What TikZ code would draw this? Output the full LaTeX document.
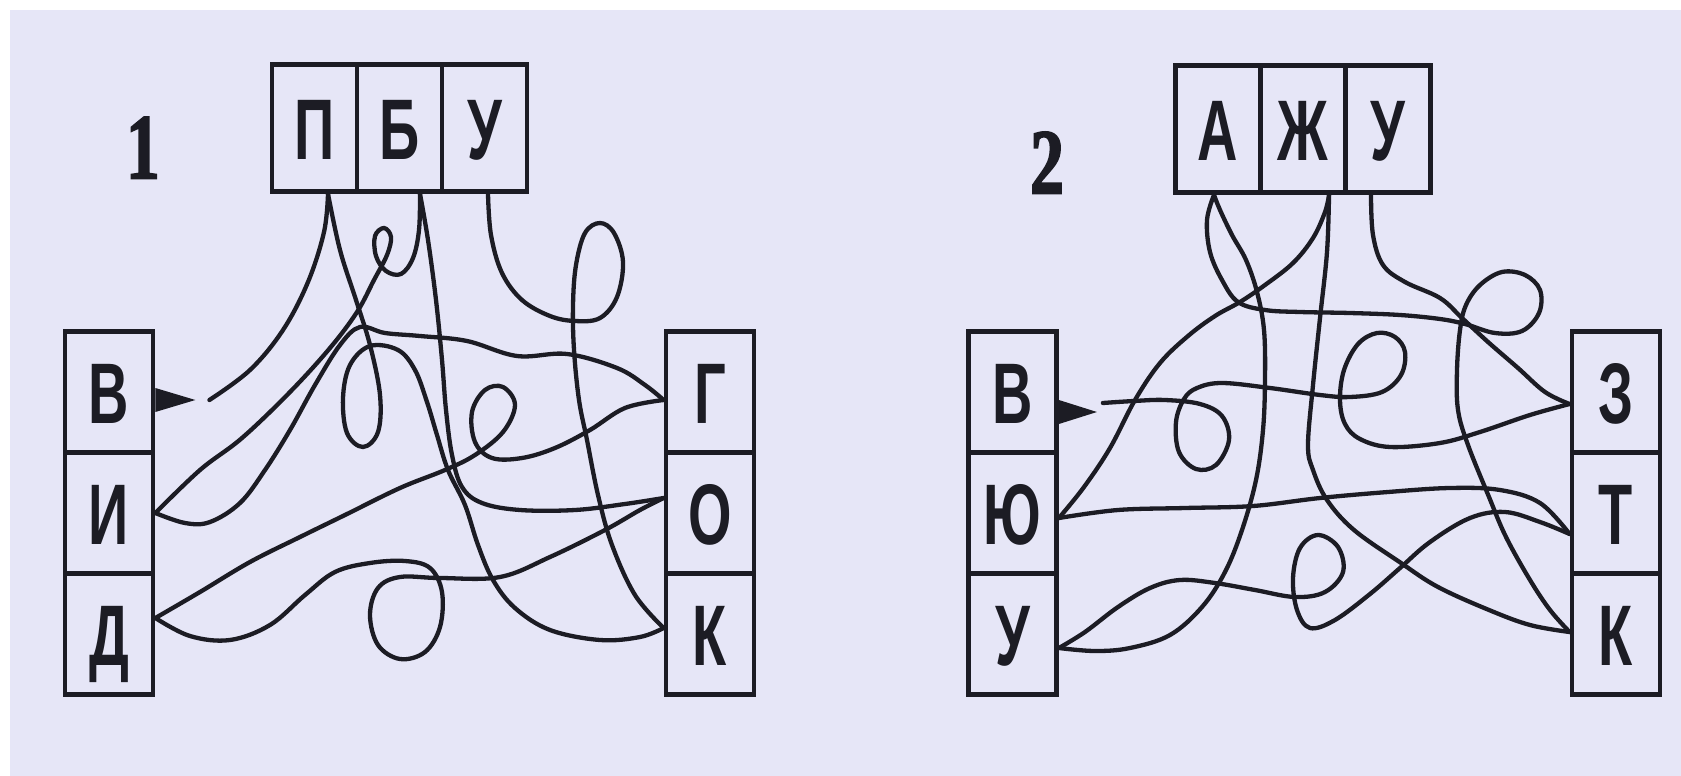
\documentclass[tikz,border=0pt]{standalone}
\usepackage{fontspec}
\newfontfamily\lblfont{Liberation Sans}[FakeStretch=0.65]
\newfontfamily\numfont{Liberation Serif}[FakeStretch=0.72,FakeBold=2]
\usetikzlibrary{calc}
\definecolor{bgc}{HTML}{E6E6F7}
\definecolor{ink}{HTML}{1C1C24}
\begin{document}
\begin{tikzpicture}[x=1pt,y=-1pt,
  cell/.style={draw=ink, line width=4.8pt, minimum width=88pt, minimum height=121pt, inner sep=0pt,
    text height=62pt, text depth=0pt, text=ink, font=\lblfont\bfseries\fontsize{86}{86}\selectfont},
  tcell/.style={cell, minimum width=85pt, minimum height=127pt},
  wire/.style={draw=ink, line width=4.3pt, line cap=round, line join=round},
  numlbl/.style={inner sep=0pt, text height=63pt, text depth=0pt, text=ink, font=\numfont\bfseries\fontsize{93}{93}\selectfont}
]
\useasboundingbox (0,0) rectangle (1681,776);
\fill[white] (0,0) rectangle (1681,776);
\fill[bgc] (10,10) rectangle (1681,776);

% ---------- panel 1 ----------
\node[numlbl] (n1) at (143,147) {1};
\node[tcell] (p1P) at (314.5,128) {П};
\node[tcell] (p1B) at (399.5,128) {Б};
\node[tcell] (p1U) at (484.5,128) {У};
\node[cell] (p1V) at (109,392) {В};
\node[cell] (p1I) at (109,513) {И};
\node[cell] (p1D) at (109,634) {Д};
\node[cell] (p1G) at (710,392) {Г};
\node[cell] (p1O) at (710,513) {О};
\node[cell] (p1K) at (710,634) {К};

\coordinate (eP) at ($(p1P.south)+(13.5,0)$);
\coordinate (eB) at ($(p1B.south)+(20.5,0)$);
\coordinate (eU) at ($(p1U.south)+(3.5,0)$);
\coordinate (eV) at ($(p1V.east)+(54,8)$);
\coordinate (eI) at (p1I.east);
\coordinate (eD) at ($(p1D.east)+(0,-16)$);
\coordinate (eG) at ($(p1G.west)+(0,8)$);
\coordinate (eO) at ($(p1O.west)+(0,-15)$);
\coordinate (eK) at ($(p1K.west)+(0,-6)$);

\fill[ink] ($(p1V.east)+(0,-4)$) -- ($(p1V.east)+(40,8)$) -- ($(p1V.east)+(0,20)$) -- cycle;

\draw[wire] plot[smooth, tension=0.6] coordinates {(eV) (250,370) (283,330) (308,282) (324,232) (eP)};
\draw[wire] plot[smooth, tension=0.6] coordinates {(eP) (340,250) (356,300) (370,345) (380,395) (378,432) (363,447) (347,433) (343,398) (350,365) (370,346) (398,350) (415,370) (427,402) (437,435) (448,470) (465,505) (478,545) (493,580) (515,608) (550,630) (600,640) (640,637) (eK)};
\draw[wire] plot[smooth, tension=0.6] coordinates {(eB) (428,240) (436,300) (442,360) (446,410) (452,455) (462,487) (482,503) (520,510) (575,510) (625,504) (eO)};
\draw[wire] plot[smooth, tension=0.6] coordinates {(eU) (491,235) (502,273) (522,300) (550,316) (575,321) (600,318) (617,297) (623,262) (614,233) (600,223) (585,233) (576,265) (573,305) (574,350) (579,400) (587,440) (598,495) (612,545) (635,595) (eK)};
\draw[wire] plot[smooth, tension=0.6] coordinates {(eD) (200,592) (250,562) (300,537) (345,515) (400,488) (445,470) (475,455) (503,432) (515,405) (503,387) (485,390) (472,412) (475,442) (492,458) (522,458) (555,448) (590,430) (625,408) (eG)};
\draw[wire] plot[smooth, tension=0.6] coordinates {(eD) (190,636) (230,640) (270,625) (305,595) (335,572) (370,563) (405,561) (430,568) (442,592) (440,627) (425,652) (400,659) (378,645) (370,615) (378,588) (400,577) (440,578) (500,577) (550,557) (605,530) (640,510) (eO)};
\draw[wire] plot[smooth, tension=0.6] coordinates {(eI) (200,470) (242,438) (290,392) (330,348) (357,312) (374,280) (387,255) (391,237) (384,228) (375,236) (376,256) (386,271) (401,274) (413,258) (419,230) (eB)};
\draw[wire] plot[smooth, tension=0.6] coordinates {(eI) (185,523) (210,522) (240,503) (265,470) (290,430) (315,385) (340,345) (360,327) (385,333) (420,336) (467,341) (517,356) (567,354) (617,368) (645,385) (eG)};

% ---------- panel 2 ----------
\node[numlbl] (n2) at (1047,162) {2};
\node[tcell] (p2A) at (1218,129) {А};
\node[tcell] (p2Zh) at (1303,129) {Ж};
\node[tcell] (p2Ut) at (1388,129) {У};
\node[cell] (p2V) at (1012.5,392) {В};
\node[cell] (p2Yu) at (1012.5,513) {Ю};
\node[cell] (p2Ul) at (1012.5,634) {У};
\node[cell] (p2Z) at (1616,392) {З};
\node[cell] (p2T) at (1616,513) {Т};
\node[cell] (p2K) at (1616,634) {К};

\coordinate (eA) at ($(p2A.south)+(-4,0)$);
\coordinate (eZh) at ($(p2Zh.south)+(26,0)$);
\coordinate (eUt) at ($(p2Ut.south)+(-17,0)$);
\coordinate (eV2) at ($(p2V.east)+(44,11)$);
\coordinate (eYu) at ($(p2Yu.east)+(0,5)$);
\coordinate (eUl) at ($(p2Ul.east)+(0,14)$);
\coordinate (eZ) at ($(p2Z.west)+(0,12)$);
\coordinate (eT) at ($(p2T.west)+(0,21)$);
\coordinate (eK2) at ($(p2K.west)+(0,-2)$);

\fill[ink] ($(p2V.east)+(0,8)$) -- ($(p2V.east)+(38,20)$) -- ($(p2V.east)+(0,32)$) -- cycle;

\draw[wire] plot[smooth, tension=0.6] coordinates {(eV2) (1134,401) (1165,400) (1200,404) (1222,416) (1229,440) (1216,465) (1196,469) (1179,452) (1176,422) (1184,399) (1197,388) (1222,383) (1270,388) (1320,395) (1350,397) (1382,392) (1401,375) (1405,352) (1395,337) (1377,333) (1358,344) (1344,370) (1340,400) (1345,424) (1360,439) (1390,447) (1440,443) (1480,432) (1530,415) (eZ)};
\draw[wire] plot[smooth, tension=0.6] coordinates {(eYu) (1084,487) (1110,448) (1135,400) (1160,363) (1188,336) (1215,316) (1240,302) (1265,285) (1293,263) (1313,238) (1325,212) (eZh)};
\draw[wire] plot[smooth, tension=0.6] coordinates {(eYu) (1118,510) (1185,508) (1253,506) (1320,498) (1388,492) (1450,488) (1500,490) (1540,503) (eT)};
\draw[wire] plot[smooth, tension=0.6] coordinates {(eUl) (1095,651) (1130,648) (1170,635) (1202,607) (1225,572) (1242,530) (1256,480) (1263,430) (1265,380) (1264,330) (1257,292) (1246,260) (1232,235) (1220,210) (eA)};
\draw[wire] plot[smooth, tension=0.6] coordinates {(eUl) (1085,632) (1118,607) (1150,588) (1180,580) (1215,583) (1255,590) (1295,597) (1325,592) (1343,572) (1338,547) (1318,535) (1300,548) (1293,578) (1297,610) (1310,628) (1335,620) (1370,594) (1400,568) (1430,542) (1470,518) (1505,512) (1540,522) (eT)};
\draw[wire] plot[smooth, tension=0.6] coordinates {(eZh) (1327,252) (1320,318) (1313,385) (1308,445) (1313,470) (1327,500) (1354,530) (1401,563) (1438,587) (1489,610) (1530,625) (eK2)};
\draw[wire] plot[smooth, tension=0.6] coordinates {(eA) (1207,220) (1210,252) (1222,280) (1238,302) (1265,310) (1300,312) (1350,313) (1400,315) (1440,319) (1465,324) (1495,333) (1522,331) (1539,313) (1540,290) (1525,275) (1502,272) (1480,285) (1466,305) (1460,330) (1457,370) (1458,410) (1468,445) (1489,497) (1506,537) (1530,580) (1550,610) (eK2)};
\draw[wire] plot[smooth, tension=0.6] coordinates {(eUt) (1373,235) (1383,265) (1405,282) (1440,298) (1462,318) (1488,342) (1518,368) (1545,392) (eZ)};
\end{tikzpicture}
\end{document}
